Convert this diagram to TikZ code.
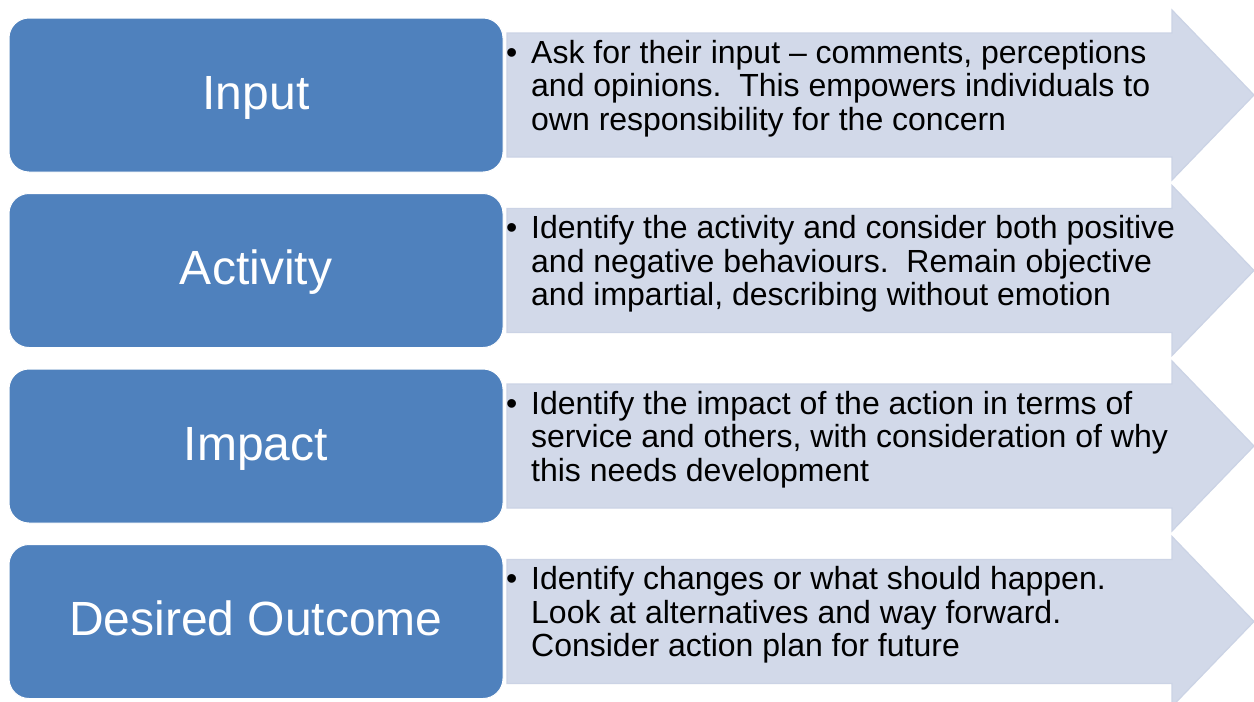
\documentclass[tikz,border=0pt]{standalone}
\usepackage{fontspec}
\setmainfont{Liberation Sans}
\definecolor{boxblue}{HTML}{4F81BD}
\definecolor{arrowfill}{HTML}{D2D9E9}
\definecolor{arrowedge}{HTML}{CBD3E5}
\tikzset{
  stepbox/.style={rectangle, rounded corners=20pt, fill=boxblue, draw=white,
    line width=1pt, minimum width=494pt, minimum height=154pt, inner sep=0pt},
  steplabel/.style={anchor=base, text=white, inner sep=0pt,
    font=\fontsize{48}{58}\selectfont},
  bodyline/.style={anchor=base west, inner sep=0pt, text=black,
    font=\fontsize{32}{38}\selectfont},
  arrowshape/.style={fill=arrowfill, draw=arrowedge, line width=1.2pt, line join=miter}
}
\begin{document}
\begin{tikzpicture}[x=1pt, y=-1pt]
\useasboundingbox (0,0) rectangle (1254,702);
\fill[white] (0,0) rectangle (1254,702);

% chevron arrows behind the text
\foreach \k in {0,1,2,3}{
  \draw[arrowshape, shift={(0,175.5*\k)}]
    (507,33) -- (1172,33) -- (1172,10) -- (1254,95) -- (1172,180)
    -- (1172,157) -- (507,157) -- cycle;
}

% step boxes
\node[stepbox] (b1) at (256,95) {};
\node[stepbox] (b2) at (256,270.5) {};
\node[stepbox] (b3) at (256,446) {};
\node[stepbox] (b4) at (256,621.5) {};

\node[steplabel] (l1) at (256,109) {Input};
\node[steplabel] (l2) at (256,284.5) {Activity};
\node[steplabel] (l3) at (256,460) {Impact};
\node[steplabel] (l4) at (256,635.5) {Desired Outcome};

% bullet texts
\node[bodyline] (d1) at (506,63) {•};
\node[bodyline] (t1a) at (531,63) {Ask for their input – comments, perceptions};
\node[bodyline] (t1b) at (531,96.5) {and opinions.\ \ This empowers individuals to};
\node[bodyline] (t1c) at (531,130) {own responsibility for the concern};

\node[bodyline] (d2) at (506,238.5) {•};
\node[bodyline] (t2a) at (531,238.5) {Identify the activity and consider both positive};
\node[bodyline] (t2b) at (531,272) {and negative behaviours.\ \ Remain objective};
\node[bodyline] (t2c) at (531,305.5) {and impartial, describing without emotion};

\node[bodyline] (d3) at (506,414) {•};
\node[bodyline] (t3a) at (531,414) {Identify the impact of the action in terms of};
\node[bodyline] (t3b) at (531,447.5) {service and others, with consideration of why};
\node[bodyline] (t3c) at (531,481) {this needs development};

\node[bodyline] (d4) at (506,589.5) {•};
\node[bodyline] (t4a) at (531,589.5) {Identify changes or what should happen.};
\node[bodyline] (t4b) at (531,623) {Look at alternatives and way forward.};
\node[bodyline] (t4c) at (531,656.5) {Consider action plan for future};
\end{tikzpicture}
\end{document}
